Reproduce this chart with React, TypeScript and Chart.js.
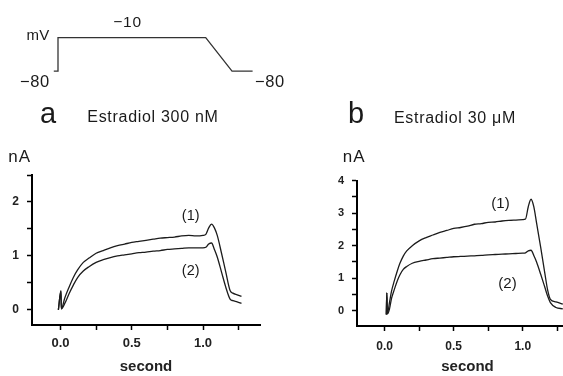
import React, { useEffect, useRef } from "react";
import { Chart, registerables } from "chart.js";

Chart.register(...registerables);

// ---- voltage protocol ----
const protoTime = [-0.03, 0, 0, 1.055, 1.243, 1.39];
const protoVoltage = [-80, -80, -10, -10, -80, -80];

// ---- panel a : Estradiol 300 nM ----
const timeA = [-0.015, 0.003, 0.006, 0.03, 0.06, 0.09, 0.12, 0.16, 0.2, 0.25, 0.3, 0.35, 0.4, 0.45, 0.5, 0.55, 0.6, 0.65, 0.7, 0.75, 0.8, 0.85, 0.9, 0.95, 1.0, 1.02, 1.04, 1.06, 1.08, 1.1, 1.13, 1.16, 1.19, 1.21, 1.24, 1.27];
const currentA1 = [0.0, 0.35, 0.02, 0.22, 0.42, 0.6, 0.74, 0.88, 0.96, 1.05, 1.1, 1.15, 1.19, 1.22, 1.25, 1.27, 1.29, 1.31, 1.33, 1.34, 1.35, 1.37, 1.38, 1.37, 1.38, 1.4, 1.52, 1.59, 1.52, 1.38, 1.05, 0.7, 0.36, 0.31, 0.28, 0.25];
const currentA2 = [0.0, 0.35, 0.02, 0.12, 0.3, 0.46, 0.6, 0.72, 0.8, 0.88, 0.93, 0.97, 1.0, 1.02, 1.04, 1.06, 1.07, 1.09, 1.1, 1.12, 1.13, 1.14, 1.15, 1.15, 1.15, 1.16, 1.22, 1.24, 1.12, 0.98, 0.7, 0.42, 0.2, 0.17, 0.15, 0.12];

// ---- panel b : Estradiol 30 µM ----
const timeB = [0.012, 0.016, 0.02, 0.035, 0.05, 0.07, 0.09, 0.11, 0.135, 0.16, 0.2, 0.25, 0.3, 0.35, 0.4, 0.45, 0.5, 0.55, 0.6, 0.65, 0.7, 0.75, 0.8, 0.85, 0.9, 0.95, 1.0, 1.02, 1.04, 1.06, 1.08, 1.1, 1.13, 1.16, 1.18, 1.2, 1.24, 1.29];
const currentB1 = [-0.12, 0.55, -0.1, 0.25, 0.6, 0.92, 1.2, 1.45, 1.68, 1.84, 2.0, 2.15, 2.25, 2.33, 2.41, 2.47, 2.53, 2.56, 2.6, 2.66, 2.68, 2.72, 2.73, 2.76, 2.78, 2.79, 2.8, 2.82, 3.2, 3.43, 3.2, 2.7, 1.95, 1.15, 0.64, 0.35, 0.27, 0.2];
const currentB2 = [-0.12, 0.55, -0.1, 0.05, 0.38, 0.65, 0.9, 1.1, 1.27, 1.36, 1.46, 1.52, 1.56, 1.6, 1.62, 1.64, 1.66, 1.67, 1.68, 1.69, 1.7, 1.72, 1.73, 1.74, 1.75, 1.76, 1.77, 1.78, 1.84, 1.86, 1.7, 1.5, 1.12, 0.72, 0.45, 0.25, 0.1, 0.06];

// ---- ticks ----
const xTickValues = [0, 0.25, 0.5, 0.75, 1.0, 1.25];
const xMajorValues = [0, 0.5, 1.0];
const yTicksA = [0, 0.5, 1, 1.5, 2, 2.5];
const yTicksB = [0, 0.5, 1, 1.5, 2, 2.5, 3, 3.5, 4];

const FONT = "'Liberation Sans', Arial, Helvetica, sans-serif";
Chart.defaults.font.family = FONT;

type PanelProps = {
  time: number[];
  s1: number[];
  s2: number[];
  yMin: number;
  yMax: number;
  yTicks: number[];
  width: number;
  height: number;
  padTop: number;
  padRight: number;
  yWidth: number;
  xHeight: number;
  yFont: number;
  xFont: number;
  xPad: number;
};

function makePanelConfig(p: PanelProps): any {
  const ds = (vals: number[]) => ({
    data: p.time.map((t, i) => ({ x: t, y: vals[i] })),
    borderColor: "#1c1c1c",
    borderWidth: 1.3,
    pointRadius: 0,
    cubicInterpolationMode: "monotone",
    fill: false,
  });
  return {
    type: "line",
    data: { datasets: [ds(p.s1), ds(p.s2)] },
    options: {
      animation: false,
      responsive: false,
      events: [],
      layout: { padding: { top: p.padTop, right: p.padRight, left: 0, bottom: 0 } },
      plugins: { legend: { display: false }, tooltip: { enabled: false }, title: { display: false } },
      scales: {
        x: {
          type: "linear",
          min: -0.2,
          max: 1.4,
          afterBuildTicks: (s: any) => {
            s.ticks = xTickValues.map((v) => ({ value: v }));
          },
          afterFit: (s: any) => {
            s.height = p.xHeight;
          },
          ticks: {
            autoSkip: false,
            maxRotation: 0,
            padding: p.xPad,
            color: "#222",
            font: { size: p.xFont, weight: "bold" },
            callback: (v: any) => (xMajorValues.includes(Number(v)) ? Number(v).toFixed(1) : ""),
          },
          grid: { drawOnChartArea: false, tickLength: 5, tickWidth: 1.5, tickColor: "#000" },
          border: { display: true, color: "#000", width: 2 },
          title: {
            display: true,
            text: "second",
            color: "#222",
            font: { size: 15, weight: "bold" },
            padding: { top: 0, bottom: 0 },
          },
        },
        y: {
          type: "linear",
          min: p.yMin,
          max: p.yMax,
          afterBuildTicks: (s: any) => {
            s.ticks = p.yTicks.map((v) => ({ value: v }));
          },
          afterFit: (s: any) => {
            s.width = p.yWidth;
          },
          ticks: {
            autoSkip: false,
            padding: 8,
            color: "#222",
            font: { size: p.yFont, weight: "bold" },
            callback: (v: any) => (Number.isInteger(Number(v)) ? String(v) : ""),
          },
          grid: { drawOnChartArea: false, tickLength: 5, tickWidth: 1.5, tickColor: "#000" },
          border: { display: true, color: "#000", width: 2 },
        },
      },
    },
  };
}

function Panel(props: PanelProps & { left: number; top: number }) {
  const ref = useRef<HTMLCanvasElement | null>(null);
  useEffect(() => {
    if (!ref.current) return;
    const chart = new Chart(ref.current, makePanelConfig(props));
    return () => chart.destroy();
  }, []);
  return (
    <canvas
      ref={ref}
      width={props.width}
      height={props.height}
      style={{ position: "absolute", left: props.left, top: props.top, width: props.width, height: props.height, display: "block" }}
    />
  );
}

function Protocol() {
  const ref = useRef<HTMLCanvasElement | null>(null);
  useEffect(() => {
    if (!ref.current) return;
    const chart = new Chart(ref.current, {
      type: "line",
      data: {
        datasets: [
          {
            data: protoTime.map((t, i) => ({ x: t, y: protoVoltage[i] })),
            borderColor: "#333",
            borderWidth: 1.3,
            pointRadius: 0,
            fill: false,
          },
        ],
      },
      options: {
        animation: false,
        responsive: false,
        events: [],
        layout: { padding: { left: 44, right: 39, top: 32.9, bottom: 14.2 } },
        plugins: { legend: { display: false }, tooltip: { enabled: false } },
        scales: {
          x: { type: "linear", display: false, min: -0.1, max: 1.45 },
          y: { type: "linear", display: false, min: -90, max: 0 },
        },
      },
    } as any);
    return () => chart.destroy();
  }, []);
  return (
    <canvas ref={ref} width={300} height={90} style={{ position: "absolute", left: 0, top: 0, width: 300, height: 90, display: "block" }} />
  );
}

function Label(props: { text: string; left: number; baseline: number; size: number; spacing?: number; weight?: string; center?: boolean }) {
  const top = props.baseline - 0.8465 * props.size;
  return (
    <div
      style={{
        position: "absolute",
        left: props.left,
        top,
        fontFamily: FONT,
        fontSize: props.size,
        lineHeight: `${props.size}px`,
        letterSpacing: props.spacing ? `${props.spacing}px` : undefined,
        fontWeight: props.weight || "normal",
        color: "#1a1a1a",
        whiteSpace: "nowrap",
        transform: props.center ? "translateX(-50%)" : undefined,
      }}
    >
      {props.text}
    </div>
  );
}

export default function App() {
  return (
    <div style={{ position: "fixed", left: 0, top: 0, width: 563, height: 376, overflow: "hidden", background: "#fff" }}>
      <Protocol />
      <Label text="mV" left={26.5} baseline={39.3} size={15} spacing={0.3} />
      <Label text="−10" left={127.5} baseline={26.7} size={15.5} spacing={0.8} center />
      <Label text="−80" left={20} baseline={87} size={16.5} spacing={0.6} />
      <Label text="−80" left={255} baseline={87} size={16.5} spacing={0.6} />

      <Label text="a" left={40} baseline={123.3} size={29} />
      <Label text="Estradiol 300 nM" left={87.3} baseline={122.7} size={16} spacing={0.7} />
      <Label text="b" left={348} baseline={123.3} size={29} />
      <Label text="Estradiol 30 μM" left={394} baseline={123.3} size={16} spacing={0.7} />

      <Label text="nA" left={8.3} baseline={162.7} size={17} spacing={1} />
      <Label text="nA" left={342.7} baseline={162.7} size={17} spacing={1} />

      <Panel
        left={0}
        top={140}
        width={275}
        height={236}
        time={timeA}
        s1={currentA1}
        s2={currentA2}
        yMin={-0.28}
        yMax={2.5}
        yTicks={yTicksA}
        padTop={35}
        padRight={15}
        yWidth={32}
        xHeight={51}
        yFont={12}
        xFont={13}
        xPad={6}
      />
      <Panel
        left={290}
        top={140}
        width={310}
        height={236}
        time={timeB}
        s1={currentB1}
        s2={currentB2}
        yMin={-0.47}
        yMax={4}
        yTicks={yTicksB}
        padTop={40.7}
        padRight={22}
        yWidth={67}
        xHeight={50}
        yFont={11}
        xFont={12}
        xPad={8}
      />

      <Label text="(1)" left={190.7} baseline={220.3} size={14.5} center />
      <Label text="(2)" left={190.7} baseline={275.3} size={14.5} center />
      <Label text="(1)" left={500.5} baseline={207.5} size={15} center />
      <Label text="(2)" left={507.5} baseline={288} size={15} center />
    </div>
  );
}
